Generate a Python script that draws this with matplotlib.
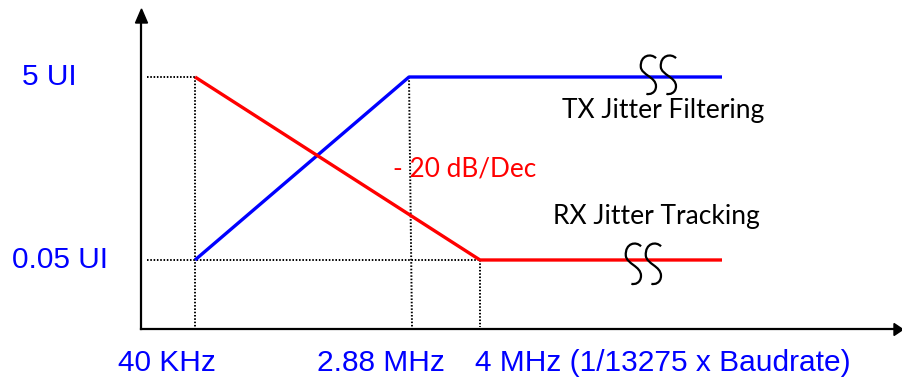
import numpy as np
import matplotlib
matplotlib.use("Agg")
import matplotlib.pyplot as plt
from matplotlib.path import Path
from matplotlib.patches import PathPatch

# schematic x positions of the breakpoints (diagram units) and jitter levels in UI
knee_x = [195, 409, 480]
end_x = 722
ui_hi = 5
ui_lo = 0.05

# TX jitter filtering: rises from 0.05 UI to 5 UI, then flat
tx_x = [knee_x[0], knee_x[1], end_x]
tx_y = [ui_lo, ui_hi, ui_hi]
# RX jitter tracking: falls -20 dB/dec from 5 UI to 0.05 UI, then flat
rx_x = [knee_x[0], knee_x[2], end_x]
rx_y = [ui_hi, ui_lo, ui_lo]

y_labels = ["5 UI", "0.05 UI"]
x_labels = ["40 KHz", "2.88 MHz", "4 MHz (1/13275 x Baudrate)"]

blue = "#0000FF"
red = "#FF0000"

fig = plt.figure(figsize=(9.03, 3.77), dpi=100)
ax = fig.add_axes([0, 0, 1, 1])
ax.set_yscale("log")
ax.set_xlim(0, 903)
ax.set_ylim(0.002631, 34.71)
ax.axis("off")

# overlay in pixel-like units for the axis arrows and break marks
deco = fig.add_axes([0, 0, 1, 1])
deco.set_xlim(0, 903)
deco.set_ylim(377, 0)
deco.axis("off")
deco.patch.set_alpha(0)

# axes with arrows
deco.plot([141, 141], [329, 22], color="black", lw=1.6)
deco.plot([141, 896], [329, 329], color="black", lw=1.6)
deco.add_patch(plt.Polygon([[135.5, 23], [147.5, 23], [141.5, 9]], color="black"))
deco.add_patch(plt.Polygon([[894, 323.5], [894, 335.5], [903, 329.5]], color="black"))

# dotted guides
y_axis_x = 147
dot = dict(color="black", lw=1.4, ls=(0, (0.8, 0.9)))
ax.plot([y_axis_x, knee_x[0]], [ui_hi, ui_hi], **dot)
ax.plot([y_axis_x, knee_x[2]], [ui_lo, ui_lo], **dot)
ax.plot([knee_x[0], knee_x[0]], [ui_hi, 0.0093], **dot)
ax.plot([knee_x[1], knee_x[1] + 3], [ui_hi, 0.0093], **dot)
ax.plot([knee_x[2], knee_x[2]], [ui_lo, 0.0093], **dot)

# curves
ax.plot(tx_x, tx_y, color=blue, lw=2.4, solid_capstyle="butt")
ax.plot(rx_x, rx_y, color=red, lw=2.4, solid_capstyle="butt")

# break marks (two S shapes per curve)
s_verts = [(1.0, 0.08), (0.7, -0.05), (0.0, 0.0), (0.05, 0.3),
           (0.1, 0.5), (1.0, 0.55), (1.0, 0.78),
           (1.0, 0.95), (0.6, 1.0), (0.4, 0.97)]
s_codes = [Path.MOVETO] + [Path.CURVE4] * 9


def squiggle(x0, y0, w, h):
    v = [(x0 + vx * w, y0 + vy * h) for vx, vy in s_verts]
    deco.add_patch(PathPatch(Path(v, s_codes), fill=False, color="black", lw=1.6))


for sx in [640, 660]:
    squiggle(sx, 55, 16, 40)
for sx in [625, 645]:
    squiggle(sx, 243, 16, 42)

# y labels
arial = "Liberation Sans"
fs = 21.5
ax.text(22, ui_hi, y_labels[0], color=blue, fontsize=fs, family=arial,
        ha="left", va="center")
ax.text(12, ui_lo, y_labels[1], color=blue, fontsize=fs, family=arial,
        ha="left", va="center")

# x labels
deco.text(118, 371, x_labels[0], color=blue, fontsize=fs, family=arial,
          ha="left", va="baseline")
deco.text(317, 371, x_labels[1], color=blue, fontsize=fs, family=arial,
          ha="left", va="baseline")
deco.text(475, 371, x_labels[2], color=blue, fontsize=fs, family=arial,
          ha="left", va="baseline")

# annotations
cal = "Lato"
deco.text(562, 118, "TX Jitter Filtering", color="black", fontsize=19,
          family=cal, ha="left", va="baseline")
deco.text(393, 177, "- 20 dB/Dec", color=red, fontsize=18.8,
          family=cal, ha="left", va="baseline")
deco.text(553, 224, "RX Jitter Tracking", color="black", fontsize=19,
          family=cal, ha="left", va="baseline")

fig.savefig("out.png", dpi=100)
